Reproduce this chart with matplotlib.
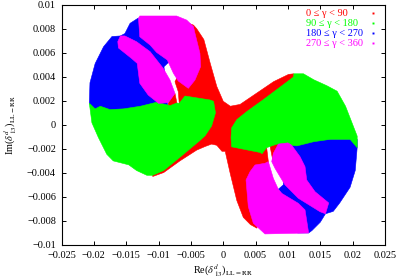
import matplotlib
matplotlib.use("Agg")
import matplotlib.pyplot as plt

# regions of the scan, (Re, Im) outlines
red_main = [(-.0056, .0085), (-.0046, .0083), (-.0041, .008), (-.003, .0071), (-.002, .0051), (-.001, .0032),
            (0, .00196), (.0011, .00155), (.0026, .0017), (.0052, .00265), (.0078, .0036), (.0101, .0042),
            (.0109, .00425), (.0109, .0037), (.006, -.0015), (.00672, -.00195), (.00697, -.00306), (.0065, -.0045),
            (.0052, -.0086), (.0042, -.0083), (.0031, -.0077), (.0021, -.0063), (.0011, -.0041), (.0003, -.0022),
            (-.0002, -.0022), (-.001, -.0017), (-.0018, -.0016), (-.0028, -.0018), (-.0041, -.0021), (-.0067, -.003),
            (-.0092, -.00397), (-.0109, -.0043), (-.0109, -.0035), (-.0072, .001), (-.0068, .00179),
            (-.00695, .00276), (-.00746, .00359), (-.0069, .0042)]
red_small_up = [(-.0085, .0015), (-.0085, .0019), (-.00746, .00262), (-.0071, .00165), (-.0071, .0012)]
red_small_low = [(.00723, -.00176), (.0072, -.0012), (.0088, -.0012), (.0085, -.0019), (.00774, -.0024),
                 (.00774, -.0032)]

blue_up = [(-.0207, .0018), (-.0206, .0035), (-.0198, .0051), (-.0185, .0065), (-.0172, .00735),
           (-.0159, .0074), (-.0152, .0076), (-.0144, .00845), (-.0131, .0089), (-.012, .0075), (-.00834, .00526),
           (-.00916, .00484), (-.0085, .001), (-.0198, .001)]
blue_low = [(.0093, -.0048), (.0106, -.0012), (.0207, -.0012), (.0207, -.0019), (.0204, -.0038), (.0196, -.0052),
            (.018, -.0065), (.017, -.0072), (.0158, -.0074), (.015, -.0081), (.0137, -.0088), (.0132, -.009),
            (.0115, -.009), (.00904, -.0057), (.00851, -.00536), (.00928, -.005)]

green_left = [(-.0207, .0018), (-.0198, .00133), (-.019, .00155), (-.0175, .00127), (-.0154, .00133), (-.0128, .00155),
              (-.0103, .00188), (-.0082, .0016), (-.0072, .00182), (-.0068, .00179), (-.00591, .0024), (-.00205, .00207),
              (-.0015, .00196), (-.0012, .001), (-.0018, -.0001), (-.0028, -.0009), (-.0036, -.0013), (-.0067, -.0027),
              (-.0092, -.0038), (-.0109, -.0042), (-.0118, -.0042), (-.0134, -.0038), (-.0146, -.00333), (-.017, -.003),
              (-.018, -.00245), (-.0193, -.00105), (-.0203, .00017)]
green_right = [(.0013, -.00025), (.0021, .00044), (.0037, .00113), (.0062, .0021), (.0088, .00315), (.0109, .004),
               (.0109, .00425), (.0124, .00425), (.014, .00375), (.016, .00326), (.0176, .0028), (.0189, .00155),
               (.0199, .00017), (.0207, -.00094), (.0207, -.0019), (.0196, -.0012), (.0166, -.0012), (.014, -.0014),
               (.0114, -.00175), (.0083, -.0016), (.0067, -.0019), (.006, -.0024), (.0057, -.0023), (.0013, -.00183),
               (.0012, -.00106)]

magenta_top = [(-.0131, .00886), (-.0129, .00906), (-.0072, .00906), (-.00565, .00872), (-.0046, .00817),
               (-.00437, .00762), (-.0036, .00595), (-.0035, .00484), (-.00437, .00373), (-.0054, .00304),
               (-.00695, .00365), (-.0077, .00429), (-.00865, .0054), (-.0103, .00603), (-.0113, .00664),
               (-.0129, .00733)]
magenta_strip_up = [(-.0163, .00693), (-.0159, .0074), (-.0152, .0074), (-.0134, .00692), (-.0113, .00609),
                    (-.00927, .0047), (-.00823, .00373), (-.00746, .00262), (-.0085, .00184), (-.01, .00179),
                    (-.0116, .00248), (-.0129, .00346), (-.0133, .00512), (-.0142, .00554), (-.0162, .0064)]
magenta_low = [(.00491, -.00334), (.00645, -.0032), (.00697, -.00306), (.00774, -.00445), (.00851, -.00536),
               (.00904, -.0057), (.0116, -.00653), (.01264, -.00708), (.0132, -.009), (.00645, -.00908),
               (.00465, -.00819), (.00387, -.00681), (.00352, -.00459), (.00414, -.0039)]
magenta_strip_low = [(.00749, -.00306), (.00774, -.00237), (.00851, -.0016), (.0100, -.0015), (.01058, -.0017),
                     (.01187, -.00265), (.01264, -.00348), (.0129, -.00459), (.01418, -.00556), (.0163, -.0065),
                     (.0158, -.0074), (.01496, -.00723), (.0116, -.00611), (.00955, -.005), (.00877, -.00431),
                     (.008, -.00362)]

x_ticks = [-0.025, -0.02, -0.015, -0.01, -0.005, 0, 0.005, 0.01, 0.015, 0.02, 0.025]
x_labels = ["\u22120.025", "\u22120.02", "\u22120.015", "\u22120.01", "\u22120.005", "0", "0.005", "0.01", "0.015", "0.02", "0.025"]
y_ticks = [-0.01, -0.008, -0.006, -0.004, -0.002, 0, 0.002, 0.004, 0.006, 0.008, 0.01]
y_labels = ["\u22120.01", "\u22120.008", "\u22120.006", "\u22120.004", "\u22120.002", "0", "0.002", "0.004", "0.006", "0.008", "0.01"]
legend_names = ["0 \u2264 \u03b3 < 90", "90 \u2264 \u03b3 < 180", "180 \u2264 \u03b3 < 270", "270 \u2264 \u03b3 < 360"]
red, green, blue, magenta = "#ff0000", "#00ff00", "#0000ff", "#ff00ff"

plt.rcParams["font.family"] = ["Liberation Serif", "DejaVu Serif"]
plt.rcParams["mathtext.fontset"] = "stix"
plt.rcParams["font.size"] = 7.4

fig = plt.figure(figsize=(3.97, 2.78), dpi=100)
ax = fig.add_axes([61.5 / 397, 33 / 278, 323.5 / 397, 240.3 / 278])

# painted back to front so the edges between colours stay simple
for shape, c in [(red_main, red), (red_small_up, red), (red_small_low, red),
                 (blue_up, blue), (blue_low, blue),
                 (green_left, green), (green_right, green),
                 (magenta_top, magenta), (magenta_strip_up, magenta),
                 (magenta_low, magenta), (magenta_strip_low, magenta)]:
    ax.fill([p[0] for p in shape], [p[1] for p in shape], color=c, lw=0.4)

ax.set_xlim(-0.025, 0.025)
ax.set_ylim(-0.01, 0.01)
ax.set_xticks(x_ticks)
ax.set_xticklabels(x_labels)
ax.set_yticks(y_ticks)
ax.set_yticklabels(y_labels)
ax.tick_params(direction="in", top=True, right=True, length=3, width=0.7, pad=4)
for s in ax.spines.values():
    s.set_linewidth(0.8)

ax.set_xlabel(r"Re($\delta^{d}_{\ 13}$)$_{\mathrm{LL=RR}}$", fontsize=7.4, labelpad=2)
ax.set_ylabel(r"Im($\delta^{d}_{\ 13}$)$_{\mathrm{LL-RR}}$", fontsize=7.4, labelpad=5.6)

# gnuplot style key: coloured text on the left, tiny dot on the right
for i, (name, c) in enumerate(zip(legend_names, (red, green, blue, magenta))):
    yy = 0.964 - i * 0.0416
    ax.text(0.757, yy, name, color=c, transform=ax.transAxes, va="center", ha="left", fontsize=7.4)
    ax.plot([0.963], [yy], ls="none", marker="s", ms=1.4, mew=0, color=c, transform=ax.transAxes)

fig.savefig("out.png", dpi=100)
